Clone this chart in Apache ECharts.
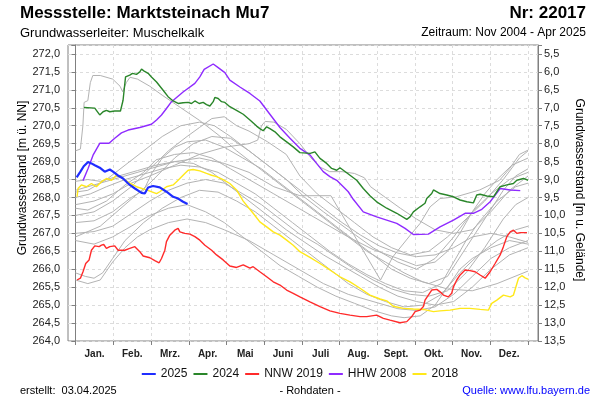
<!DOCTYPE html>
<html><head><meta charset="utf-8">
<script src="https://cdn.jsdelivr.net/npm/echarts@6/dist/echarts.min.js"></script>
<style>html,body{margin:0;padding:0;background:#fff}#c{width:600px;height:400px}</style>
</head><body><div id="c"></div>
<script>
// ---------- data (x = day of year, y = water level m ü. NN) ----------
const months = ['Jan.','Feb.','Mrz.','Apr.','Mai','Juni','Juli','Aug.','Sept.','Okt.','Nov.','Dez.'];
const groundLevel = 277.5;

const y2025 = [[1,268.56],[4,268.72],[6.7,268.87],[10.2,268.99],[12.9,268.95],[15.6,268.9],[19.6,268.83],[23.6,268.72],[27.7,268.78],[30.3,268.72],[34,268.62],[38.4,268.53],[43.8,268.35],[48,268.25],[53.3,268.13],[55.9,268.11],[58.6,268.28],[62.6,268.32],[68,268.28],[73.4,268.16],[78.8,268.02],[82.8,267.97],[86.8,267.88],[90.4,267.82]];

const y2024 = [[6.9,270.51],[15.6,270.49],[16.9,270.43],[19.6,270.3],[22.3,270.39],[25,270.43],[27.7,270.39],[31.7,270.41],[36.3,270.41],[38.4,270.71],[40.4,271.36],[43.8,271.41],[46,271.46],[49.2,271.43],[51.9,271.5],[53.3,271.58],[55.1,271.53],[58.6,271.46],[61.3,271.36],[65.4,271.22],[70.7,270.99],[74.7,270.81],[78.8,270.69],[82.8,270.62],[86.8,270.64],[90.9,270.65],[93.6,270.62],[96.3,270.69],[97.7,270.71],[99.8,270.62],[103,270.65],[105.7,270.59],[108.4,270.55],[111.1,270.67],[112.4,270.79],[115.1,270.76],[117.8,270.67],[120.5,270.65],[124.5,270.53],[129.9,270.43],[135.3,270.32],[140.7,270.16],[146.1,269.99],[148.7,269.92],[151.4,269.86],[154.2,269.97],[156.8,269.92],[160.9,269.83],[164.9,269.69],[170.3,269.55],[175.6,269.41],[181,269.25],[189.3,269.23],[193.1,269.27],[197.2,269.09],[202.6,268.95],[206.6,268.81],[210.7,268.76],[213.3,268.83],[216,268.76],[221.4,268.62],[226.8,268.48],[232.1,268.25],[237.5,268.05],[242.9,267.88],[251,267.7],[259.1,267.56],[267.2,267.39],[269.8,267.46],[272.5,267.6],[277.9,267.74],[281.9,267.84],[283.3,267.97],[287.3,268.11],[288.7,268.21],[294,268.11],[299.4,268.07],[304.8,268.02],[310.2,267.93],[315.6,267.88],[320.9,267.85],[323.6,268.07],[326.3,268.09],[331.7,268.04],[337.1,268.02],[339.8,268.16],[342.5,268.3],[347.9,268.35],[353.2,268.39],[355.9,268.48],[361.3,268.53],[365,268.48]];

const nnw2019 = [[1.3,265.7],[4,265.75],[6.1,265.93],[8.3,266.16],[11,266.26],[12.9,266.53],[15.6,266.65],[19.1,266.63],[21,266.67],[22.8,266.69],[25,266.58],[27.7,266.63],[31.7,266.65],[34.4,266.53],[39.8,266.53],[43.8,266.58],[47.9,266.63],[51.9,266.49],[54.6,266.37],[60,266.32],[64,266.24],[67.5,266.18],[69.4,266.3],[72.1,266.53],[73.4,266.77],[76.1,266.95],[80.1,267.09],[82.8,267.14],[84.2,267.04],[88.2,267.0],[92.3,266.98],[96.3,266.91],[100.3,266.81],[104.4,266.67],[109.8,266.53],[113.8,266.4],[119.1,266.26],[124.5,266.09],[129.9,266.05],[135.3,266.12],[140.7,266.03],[143.3,266.07],[148.7,265.93],[154.2,265.79],[159.5,265.65],[164.9,265.56],[170.3,265.42],[175.6,265.33],[181,265.23],[189.1,265.09],[197.2,264.96],[205.2,264.84],[213.3,264.77],[221.4,264.72],[229.5,264.68],[234.9,264.68],[242.9,264.72],[248.3,264.63],[253.7,264.58],[261.7,264.51],[267.2,264.54],[271.2,264.68],[273.9,264.82],[277.9,264.86],[280.6,264.96],[281.9,265.14],[284.6,265.28],[287.3,265.42],[291.4,265.44],[294,265.37],[296.7,265.28],[300.7,265.23],[303.4,265.33],[304.8,265.51],[307.5,265.7],[310.2,265.84],[314.2,265.98],[318.2,265.96],[322.3,265.93],[326.3,265.84],[330.4,265.75],[331.7,265.79],[334.4,265.93],[338.4,266.16],[342.5,266.4],[345.1,266.63],[347.9,266.91],[350.6,267.04],[353.2,267.09],[355.9,267.0],[358.7,267.02],[364.1,267.02]];

const hhw2008 = [[6.1,268.47],[10.2,268.81],[14.2,269.18],[19.6,269.51],[27.1,269.51],[31.7,269.65],[37.1,269.8],[42.5,269.88],[51.9,269.95],[61.3,270.04],[65.4,270.16],[69.4,270.3],[73.4,270.48],[77.5,270.67],[86.8,270.94],[96.3,271.18],[100.3,271.36],[103.8,271.57],[111.1,271.72],[115.1,271.62],[120.5,271.48],[124.5,271.27],[132.6,271.08],[140.7,270.9],[148.7,270.69],[156.8,270.32],[164.9,269.95],[173,269.65],[181,269.37],[189.3,269.18],[194.5,268.95],[199.8,268.72],[205.2,268.58],[210.7,268.48],[216,268.3],[220,268.16],[224,267.95],[232.1,267.6],[242.9,267.46],[251,267.37],[259.1,267.28],[265.8,267.14],[272.5,266.97],[284.6,266.98],[294,267.18],[304.8,267.37],[314.2,267.56],[320.9,267.56],[327.7,267.67],[334.4,267.88],[342.5,268.25],[350.6,268.21],[358.7,268.19]];

const y2018 = [[1.3,268.02],[2.1,268.25],[4.8,268.35],[8.9,268.3],[12.9,268.39],[16.9,268.3],[21,268.44],[25,268.53],[29.1,268.48],[33.1,268.62],[38.4,268.53],[43.8,268.4],[49.2,268.3],[57.3,268.21],[65.4,268.11],[68,268.16],[73.4,268.3],[78.8,268.35],[82.8,268.48],[88.2,268.67],[90.9,268.76],[94.9,268.78],[100.3,268.74],[105.7,268.67],[109.8,268.62],[113.8,268.58],[119.1,268.5],[124.5,268.39],[129.9,268.21],[135.3,267.9],[143.3,267.56],[148.7,267.32],[154.2,267.18],[159.5,267.04],[164.9,266.95],[170.3,266.81],[175.6,266.67],[181,266.49],[189.1,266.33],[197.2,266.16],[205.2,265.98],[213.3,265.79],[221.4,265.65],[229.5,265.47],[237.5,265.28],[245.6,265.17],[251,265.12],[256.3,264.97],[264.4,264.91],[272.5,264.89],[280.6,264.88],[288.7,264.82],[294,264.84],[302.1,264.86],[310.2,264.91],[318.2,264.91],[326.3,264.88],[333,264.86],[335.7,265.05],[339.8,265.14],[345.1,265.28],[350.6,265.23],[353.2,265.28],[357.3,265.75],[360,265.82],[362.6,265.76],[365.3,265.72]];

// other years (grey)
const gray01 = [[0,269.3],[4,269.35],[6,270.0],[7,270.65],[10,270.7],[12,271.2],[14,271.4],[20,271.4],[30,271.3],[36,271.1],[38,270.95],[41,271.2],[44,271.35],[50,271.3],[60,271.1],[70,270.85],[85,270.5],[100,270.15],[115,269.75],[130,269.3],[145,268.9],[160,268.5],[175,268.1],[190,267.7],[205,267.3],[220,266.9],[235,266.5],[250,266.2],[265,265.9],[280,265.65],[300,265.45],[320,265.4],[340,265.6],[365,265.95]];
const gray02 = [[0,267.8],[15,267.9],[30,268.1],[45,268.4],[60,268.6],[80,268.9],[100,269.2],[120,269.4],[140,269.5],[147,269.6],[150,270.0],[153,270.12],[160,270.1],[170,269.9],[181,269.5],[190,269.1],[197,268.85],[205,268.72],[215,268.72],[225,268.67],[233,268.55],[238,268.3],[250,268.0],[262,267.7],[275,267.4],[290,267.1],[305,267.0],[320,267.1],[335,267.6],[350,268.2],[365,268.6]];
const gray03 = [[0,267.5],[15,267.6],[30,267.9],[45,268.3],[60,268.8],[75,269.3],[90,269.7],[100,269.95],[110,270.2],[120,270.25],[130,270.0],[140,269.85],[155,269.55],[170,269.2],[181,268.6],[195,268.1],[210,267.7],[225,267.3],[240,266.9],[255,266.6],[270,266.4],[285,266.5],[300,266.9],[315,267.4],[330,267.9],[345,268.5],[358,269.1],[365,269.3]];
const gray04 = [[0,266.9],[20,267.2],[40,267.8],[60,268.4],[80,269.1],[95,269.5],[110,269.7],[125,269.65],[140,269.3],[155,268.9],[170,268.5],[185,268.0],[200,267.6],[220,267.1],[240,266.6],[260,266.2],[275,266.0],[290,266.3],[305,266.9],[320,267.6],[335,268.1],[350,268.5],[365,268.7]];
const gray05 = [[0,265.9],[8,265.8],[15,265.75],[22,265.9],[30,266.3],[40,266.8],[55,267.3],[70,267.7],[85,268.0],[100,268.2],[115,268.15],[130,267.9],[145,267.6],[160,267.2],[175,266.8],[190,266.4],[205,266.0],[220,265.6],[235,265.3],[250,265.1],[265,264.95],[280,265.0],[295,265.3],[310,265.9],[325,266.4],[340,266.8],[355,267.1],[365,267.2]];
const gray06 = [[0,265.7],[10,265.6],[20,265.7],[30,266.2],[40,266.6],[50,266.9],[60,267.1],[75,267.3],[90,267.4],[105,267.3],[120,267.1],[140,266.8],[160,266.4],[180,266.0],[200,265.6],[220,265.3],[240,265.1],[260,264.9],[275,264.85],[290,264.95],[305,265.3],[320,265.8],[335,266.3],[350,266.6],[365,266.8]];
const gray07 = [[0,267.0],[15,267.05],[30,267.2],[45,267.55],[60,267.9],[75,268.2],[90,268.4],[105,268.5],[120,268.4],[135,268.1],[150,267.8],[165,267.4],[180,267.0],[195,266.7],[210,266.35],[225,266.0],[240,265.7],[255,265.45],[270,265.3],[285,265.25],[300,265.4],[315,265.9],[330,266.6],[345,267.4],[355,267.8],[365,268.0]];
const gray08 = [[0,268.0],[12,268.1],[25,268.3],[40,268.5],[55,268.65],[70,268.8],[85,268.9],[100,268.85],[115,268.7],[130,268.4],[145,268.1],[160,267.7],[175,267.3],[190,266.9],[205,266.5],[220,266.15],[235,265.85],[250,265.6],[265,265.4],[280,265.35],[295,265.6],[305,266.2],[315,266.8],[325,267.3],[340,267.9],[355,268.3],[365,268.4]];
const gray09 = [[0,267.7],[10,267.65],[25,267.9],[40,268.35],[55,268.7],[65,269.05],[80,269.2],[95,269.25],[110,269.1],[125,268.8],[140,268.5],[160,268.1],[180,267.7],[200,267.3],[220,266.9],[240,266.55],[260,266.3],[275,266.1],[290,266.2],[300,266.5],[310,267.0],[320,267.6],[330,268.1],[340,268.5],[352,268.9],[365,269.1]];
const gray10 = [[0,268.2],[20,268.4],[40,268.6],[60,268.8],[80,269.0],[100,269.1],[120,268.95],[140,268.7],[160,268.3],[181,268.05],[206,268.05],[246,265.7],[256,266.35],[270,266.95],[278,267.28],[286,267.74],[294,267.97],[307,268.02],[326,268.21],[342,268.48],[350,268.8],[358,269.2],[365,269.32]];
const gray11 = [[0,266.8],[15,266.7],[30,266.9],[45,267.2],[60,267.5],[75,267.7],[90,267.8],[105,267.6],[120,267.3],[135,266.9],[150,266.5],[165,266.1],[180,265.8],[195,265.5],[210,265.25],[225,265.05],[240,264.85],[255,264.7],[265,264.65],[278,264.7],[290,265.0],[300,265.5],[310,266.0],[320,266.3],[335,266.6],[350,266.8],[365,266.7]];
const gray12 = [[0,268.45],[10,268.5],[20,268.45],[35,268.6],[50,268.75],[65,268.9],[80,269.0],[95,268.95],[110,268.7],[125,268.3],[140,267.9],[155,267.5],[170,267.1],[185,266.75],[200,266.4],[215,266.1],[230,265.8],[245,265.5],[260,265.25],[275,265.1],[290,265.0],[305,265.1],[320,265.5],[335,266.0],[350,266.4],[365,266.6]];
const gray13 = [[0,267.3],[15,267.35],[30,267.6],[45,268.0],[55,268.2],[62,268.7],[70,269.1],[80,269.4],[90,269.55],[105,269.6],[120,269.4],[135,269.1],[150,268.8],[165,268.4],[180,268.0],[195,267.6],[210,267.2],[225,266.8],[240,266.4],[255,266.0],[270,265.75],[285,265.6],[300,265.8],[315,266.6],[330,267.4],[345,268.2],[355,268.6],[365,268.8]];
const gray14 = [[0,268.15],[10,268.2],[25,268.5],[40,268.9],[55,269.3],[70,269.7],[85,270.0],[100,270.1],[112,270.0],[125,269.7],[140,269.3],[155,268.9],[170,268.5],[185,268.1],[200,267.7],[215,267.3],[230,266.95],[245,266.65],[260,266.45],[275,266.35],[290,266.4],[305,266.6],[320,266.9],[335,267.0],[350,266.9],[365,266.75]];
const grayYears = [gray01,gray02,gray03,gray04,gray05,gray06,gray07,gray08,gray09,gray10,gray11,gray12,gray13,gray14];

// ---------- chart ----------
const FONT = 'Liberation Sans, Arial, sans-serif';
const chart = echarts.init(document.getElementById('c'), null, {renderer:'canvas'});
const fmt = v => v.toFixed(1).replace('.', ',');
const onTick = v => Math.abs(v*2 - Math.round(v*2)) < 1e-6;

function line(name, data, color, width, z) {
  return {type:'line', name, data, xAxisIndex:0, yAxisIndex:0, symbol:'none', showSymbol:false,
    lineStyle:{color, width}, itemStyle:{color}, z, silent:true, animation:false};
}
const series = [];
grayYears.forEach((g,i) => series.push(line('g'+i, g, '#b3b3b3', 1, 2)));
series.push(line('2018', y2018, '#ffe81a', 1.4, 3));
series.push(line('HHW 2008', hhw2008, '#8f2bff', 1.4, 4));
series.push(line('NNW 2019', nnw2019, '#ff2a2a', 1.4, 5));
series.push(line('2024', y2024, '#2a862a', 1.4, 6));
series.push(line('2025', y2025, '#1f2dff', 2.2, 7));

const axisGray = '#808080';
chart.setOption({
  animation:false,
  backgroundColor:'#ffffff',
  grid:[
    {left:68, right:62, top:45, bottom:59, show:true, borderColor:axisGray, borderWidth:1},
    {left:75.7, right:72, top:45, bottom:59, show:false}
  ],
  xAxis:[
    {type:'value', gridIndex:0, min:-6, max:373, axisLine:{show:false}, axisTick:{show:false}, axisLabel:{show:false}, splitLine:{show:false}},
    {type:'category', gridIndex:1, data:months, boundaryGap:true, position:'bottom',
     axisLine:{show:false},
     axisTick:{show:true, interval:0, length:4, lineStyle:{color:axisGray}},
     axisLabel:{interval:0, margin:8, fontSize:10, fontWeight:'bold', color:'#222', fontFamily:FONT},
     splitLine:{show:true, interval:0, lineStyle:{type:[3,3], color:'#dcdcdc', width:1}}}
  ],
  yAxis:[
    {type:'value', gridIndex:0, position:'left', min:264, max:272.25, interval:0.5,
     axisLine:{show:true, lineStyle:{color:axisGray}},
     axisTick:{show:true, length:4, lineStyle:{color:axisGray}},
     axisLabel:{margin:8, fontSize:11, color:'#222', fontFamily:FONT, formatter:v => onTick(v) ? fmt(v) : ''},
     splitLine:{show:true, lineStyle:{type:[3,3], color:'#dcdcdc', width:1}}},
    {type:'value', gridIndex:0, position:'right', min:264, max:272.25, interval:0.5,
     axisLine:{show:true, lineStyle:{color:axisGray}},
     axisTick:{show:true, length:4, lineStyle:{color:axisGray}},
     axisLabel:{margin:6, fontSize:11, color:'#222', fontFamily:FONT, formatter:v => onTick(v) ? fmt(groundLevel - v) : ''},
     splitLine:{show:false}},
    {type:'value', gridIndex:1, show:false, min:0, max:1}
  ],
  legend:{
    data:['2025','2024','NNW 2019','HHW 2008','2018'],
    left:'center', top:363, icon:'rect', itemWidth:14, itemHeight:2, itemGap:6,
    textStyle:{fontSize:12, color:'#111', fontFamily:FONT}, selectedMode:false
  },
  series,
  graphic:[
    {type:'text', x:20, y:13, style:{text:'Messstelle: Marktsteinach Mu7', font:'bold 17px '+FONT, fill:'#000', align:'left', verticalAlign:'middle'}},
    {type:'text', x:586, y:13, style:{text:'Nr: 22017', font:'bold 17px '+FONT, fill:'#000', align:'right', verticalAlign:'middle'}},
    {type:'text', x:20, y:33, style:{text:'Grundwasserleiter: Muschelkalk', font:'13px '+FONT, fill:'#000', align:'left', verticalAlign:'middle'}},
    {type:'text', x:586, y:33, style:{text:'Zeitraum: Nov 2004 - Apr 2025', font:'12px '+FONT, fill:'#000', align:'right', verticalAlign:'middle'}},
    {type:'text', x:23, y:178, rotation:Math.PI/2, style:{text:'Grundwasserstand [m ü. NN]', font:'12px '+FONT, fill:'#000', align:'center', verticalAlign:'middle'}},
    {type:'text', x:579, y:190, rotation:-Math.PI/2, style:{text:'Grundwasserstand [m u. Gelände]', font:'12px '+FONT, fill:'#000', align:'center', verticalAlign:'middle'}},
    {type:'text', x:20, y:391, style:{text:'erstellt:  03.04.2025', font:'11px '+FONT, fill:'#000', align:'left', verticalAlign:'middle'}},
    {type:'text', x:310, y:391, style:{text:'- Rohdaten -', font:'11px '+FONT, fill:'#000', align:'center', verticalAlign:'middle'}},
    {type:'text', x:590, y:391, style:{text:'Quelle: www.lfu.bayern.de', font:'11px '+FONT, fill:'#0000ff', align:'right', verticalAlign:'middle'}}
  ]
});
</script></body></html>
